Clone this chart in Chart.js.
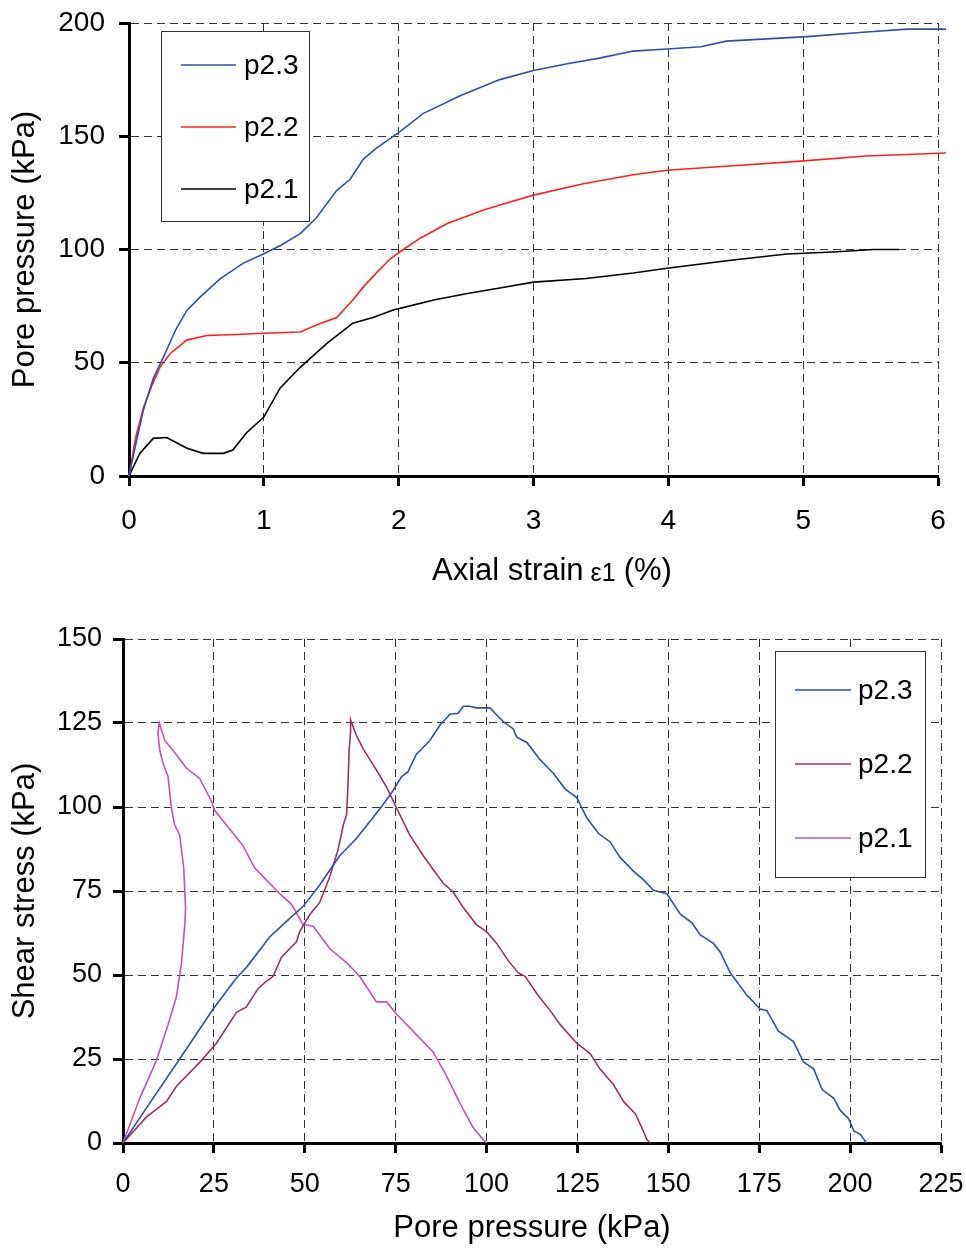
<!DOCTYPE html>
<html>
<head>
<meta charset="utf-8">
<script src="https://cdn.jsdelivr.net/npm/chart.js@4"></script>
<style>
  body { margin: 0; background: #fff; }
  #top { position: absolute; left: 0; top: 0; }
  #bottom { position: absolute; left: 0; top: 600px; }
</style>
</head>
<body>
<canvas id="top" width="966" height="600"></canvas>
<canvas id="bottom" width="966" height="648"></canvas>
<script>
// --- top chart: pore pressure vs axial strain ---
const strainP23 = [0, 0.05, 0.106, 0.18, 0.267, 0.35, 0.428, 0.527, 0.675, 0.848, 0.996, 1.13, 1.27, 1.39, 1.54, 1.64, 1.74, 1.84, 2.01, 2.18, 2.46, 2.75, 3.0, 3.25, 3.49, 3.74, 3.99, 4.24, 4.43, 4.73, 5.03, 5.47, 5.77, 6.06]
const poreP23 = [0, 14, 29, 43, 54, 65, 73, 79, 87, 94, 98, 102, 107, 114, 126, 131, 140, 145, 152, 160, 168, 175, 179, 182, 184.5, 187.6, 188.5, 189.5, 192, 193, 194, 196, 197.3, 197.3]

const strainP22 = [0, 0.05, 0.106, 0.17, 0.23, 0.304, 0.428, 0.576, 0.8, 0.996, 1.27, 1.39, 1.54, 1.66, 1.74, 1.84, 1.94, 2.01, 2.16, 2.36, 2.63, 2.75, 3.0, 3.37, 3.74, 3.99, 4.48, 4.98, 5.47, 6.06]
const poreP22 = [0, 17, 30, 40, 48, 54, 60, 62, 62.5, 63, 63.6, 66.7, 70, 77.7, 83.6, 90, 96, 99, 105, 111.5, 117.4, 119.6, 124, 129, 133, 135, 137, 139, 141.3, 142.6]

const strainP21 = [0, 0.08, 0.18, 0.28, 0.43, 0.55, 0.70, 0.77, 0.87, 1.0, 1.12, 1.27, 1.47, 1.66, 1.81, 1.96, 2.01, 2.26, 2.51, 2.75, 3.0, 3.39, 3.74, 3.99, 4.48, 4.88, 5.22, 5.52, 5.71]
const poreP21 = [0, 10, 16.6, 17, 12.3, 10, 10, 11.5, 19, 26, 38.8, 48, 58.7, 67.5, 70, 73.3, 74, 77.7, 80.6, 83, 85.6, 87.2, 89.6, 91.7, 95.4, 98, 98.9, 100, 100]

const strainTicks = [0, 1, 2, 3, 4, 5, 6]
const poreTicks = [0, 50, 100, 150, 200]

// --- bottom chart: shear stress vs pore pressure ---
const uP23 = [0, 7.3, 14.7, 24.8, 31.2, 33.9, 40.4, 44, 49.7, 54.1, 59.6, 64.2, 67.9, 71.6, 74.3, 76.6, 78.4, 80.7, 84.4, 87.2, 89.9, 92.2, 93.6, 95.4, 97.2, 100.9, 102.8, 104.6, 107.3, 108.3, 111.1, 114.7, 118.4, 121.6, 124.8, 127.6, 130.8, 134, 136.7, 140.4, 143.2, 145.9, 149.6, 153.3, 156.5, 158.8, 162.4, 164.3, 167, 171.6, 175.3, 177.1, 180.3, 184.4, 187.2, 190, 192.3, 195.5, 197.3, 199.6, 201, 202.8, 204.5]
const qP23 = [0, 11.8, 23.6, 39.9, 49.1, 52.2, 61.4, 65, 70.6, 76.8, 85.5, 90.6, 95.7, 100.8, 104.9, 109, 110.5, 115.7, 119.8, 124.4, 127.6, 127.9, 130, 130, 129.5, 129.5, 127.4, 125.4, 123.3, 120.8, 119.2, 114.1, 110, 105.4, 102.8, 96.7, 92.1, 89.6, 85, 80.9, 78.3, 75.2, 74.2, 68.1, 65.5, 61.9, 59.4, 56.8, 50.7, 44, 39.9, 39.4, 33.3, 30.2, 24.1, 22, 15.9, 13.3, 9.7, 7.2, 3.6, 2.6, 0]

const uP22 = [0, 6.4, 11.9, 14.7, 21.1, 25.7, 31.2, 33.9, 37.2, 39.4, 41.3, 43.6, 47.7, 48.6, 51.4, 54.1, 56.9, 59.2, 60.6, 61.5, 61.9, 62.2, 62.6, 62.6, 64.2, 66.1, 67.9, 69.7, 72.5, 75.2, 78.9, 82.6, 85.3, 88.1, 90.8, 93.6, 97.2, 100, 102.8, 106, 108.7, 110.6, 113.8, 117.5, 120.2, 124.8, 128.5, 131.2, 134.9, 137.7, 140.9, 142.7, 144.1, 145]
const qP22 = [0, 7.7, 12.3, 16.9, 24, 29.7, 38.9, 40.4, 46, 48.1, 49.6, 55.3, 59.9, 62.9, 68, 71.6, 79.3, 87.5, 94.7, 97.7, 107, 117.2, 122.3, 126, 121.3, 117.2, 114.1, 111, 105.9, 99.8, 91.6, 85.5, 81.4, 77.3, 74.7, 70.1, 65, 62.9, 59.4, 54.2, 50.7, 49.6, 44.5, 39.4, 35.3, 29.7, 26.6, 22, 17.4, 12.3, 8.7, 4.6, 1, 0]

const uP21 = [0, 4.6, 9.2, 12.4, 14.7, 16.1, 17.0, 17.2, 16.7, 15.6, 14.2, 13.3, 12.4, 11.0, 10.1, 9.6, 10.0, 11.5, 14.2, 17.4, 21.1, 24.3, 25.2, 28.4, 33.0, 36.2, 39.4, 43.1, 46.3, 49.5, 52.3, 56.9, 61.5, 65.1, 69.7, 72.5, 75.2, 79.8, 85.3, 89.0, 92.7, 96.3, 99.1, 100]
const qP21 = [0, 13.3, 24.6, 35.3, 43.5, 53.7, 65, 70, 81.9, 91.6, 94.7, 99.8, 109, 113, 117, 122, 125, 119.8, 116.2, 111.6, 108.5, 101.8, 99, 94.7, 88.5, 81.9, 78.3, 74.2, 71.1, 65, 64.5, 57.8, 53.7, 49.6, 42, 42, 38.4, 33.3, 27.1, 20, 11.8, 4.6, 1, 0]

const uTicks = [0, 25, 50, 75, 100, 125, 150, 175, 200, 225]
const qTicks = [0, 25, 50, 75, 100, 125, 150]

const seriesNames = ["p2.3", "p2.2", "p2.1"]

function zip(xs, ys) {
    return xs.map((x, i) => ({ x: x, y: ys[i] }))
}

const FONT = "'Liberation Sans', Arial, sans-serif"

// legend drawn as a framed box inside the plot, Excel style
const boxLegend = {
    id: "boxLegend",
    afterDatasetsDraw(chart, args, opts) {
        const ctx = chart.ctx
        ctx.save()
        ctx.fillStyle = "#fff"
        ctx.fillRect(opts.x, opts.y, opts.w, opts.h)
        ctx.strokeStyle = "#333"
        ctx.lineWidth = 1
        ctx.strokeRect(opts.x + 0.5, opts.y + 0.5, opts.w, opts.h)
        ctx.font = "28px " + FONT
        ctx.textBaseline = "middle"
        chart.data.datasets.forEach((ds, i) => {
            const y = opts.firstRow + i * opts.rowGap
            ctx.strokeStyle = ds.borderColor
            ctx.lineWidth = 1.6
            ctx.beginPath()
            ctx.moveTo(opts.x + opts.lineStart, y)
            ctx.lineTo(opts.x + opts.lineStart + opts.lineLen, y)
            ctx.stroke()
            ctx.fillStyle = "#000"
            ctx.fillText(ds.label, opts.x + opts.textStart, y + 1)
        })
        ctx.restore()
    }
}

// x title of the strain chart: epsilon-1 is set smaller than the rest
const strainTitle = {
    id: "strainTitle",
    afterDraw(chart, args, opts) {
        if (!opts.parts) return
        const ctx = chart.ctx
        ctx.save()
        ctx.fillStyle = "#000"
        ctx.textBaseline = "alphabetic"
        let x = opts.x
        opts.parts.forEach(p => {
            ctx.font = p.size + "px " + FONT
            ctx.fillText(p.text, x, opts.y + (p.drop || 0))
            x += ctx.measureText(p.text).width + p.gap
        })
        ctx.restore()
    }
}

function axis(min, max, ticks, title, isX, size, tickFont, tickPad, titleSize, titlePad) {
    return {
        type: "linear",
        min: min,
        max: max,
        afterBuildTicks(scale) {
            scale.ticks = ticks.map(v => ({ value: v }))
        },
        afterFit(scale) {
            if (isX) scale.height = size
            else scale.width = size
            scale.paddingLeft = 0
            scale.paddingRight = 0
            scale.paddingTop = 0
            scale.paddingBottom = 0
        },
        grid: {
            color: "#333",
            lineWidth: 1,
            tickColor: "#000",
            tickWidth: 3,
            tickLength: 10
        },
        border: { color: "#000", width: 3, dash: [8, 5] },
        ticks: {
            color: "#000",
            font: { family: FONT, size: tickFont },
            padding: tickPad,
            maxRotation: 0
        },
        title: {
            display: title !== "",
            text: title,
            color: "#000",
            font: { family: FONT, size: titleSize },
            padding: titlePad
        }
    }
}

function lineSet(label, xs, ys, color) {
    return {
        label: label,
        data: zip(xs, ys),
        borderColor: color,
        backgroundColor: color,
        borderWidth: 1.6,
        pointRadius: 0,
        tension: 0,
        fill: false,
        clip: { left: 2, top: 2, right: 10, bottom: 2 }
    }
}

new Chart(document.getElementById("top"), {
    type: "line",
    data: {
        datasets: [
            lineSet(seriesNames[0], strainP23, poreP23, "#3050a8"),
            lineSet(seriesNames[1], strainP22, poreP22, "#ff2020"),
            lineSet(seriesNames[2], strainP21, poreP21, "#000000")
        ]
    },
    options: {
        responsive: false,
        animation: false,
        layout: { padding: { left: 0, right: 28, top: 23, bottom: 0 } },
        plugins: {
            legend: { display: false },
            tooltip: { enabled: false },
            boxLegend: { x: 161, y: 31, w: 148, h: 190, firstRow: 65, rowGap: 62, lineStart: 20, lineLen: 55, textStart: 83 },
            strainTitle: {
                x: 432, y: 580,
                parts: [
                    { text: "Axial strain", size: 31, gap: 7 },
                    { text: "ε1", size: 25, gap: 8, drop: 1 },
                    { text: "(%)", size: 31, gap: 0 }
                ]
            }
        },
        scales: {
            x: axis(0, 6, strainTicks, "", true, 124, 28, 18, 31, 0),
            y: axis(0, 200, poreTicks, "Pore pressure (kPa)", false, 129, 28, 14, 31, { top: 7, bottom: 0 })
        }
    },
    plugins: [boxLegend, strainTitle]
})

new Chart(document.getElementById("bottom"), {
    type: "line",
    data: {
        datasets: [
            lineSet(seriesNames[0], uP23, qP23, "#3050a8"),
            lineSet(seriesNames[1], uP22, qP22, "#993366"),
            lineSet(seriesNames[2], uP21, qP21, "#c752b0")
        ]
    },
    options: {
        responsive: false,
        animation: false,
        layout: { padding: { left: 0, right: 25, top: 39, bottom: 0 } },
        plugins: {
            legend: { display: false },
            tooltip: { enabled: false },
            boxLegend: { x: 775, y: 51, w: 150, h: 226, firstRow: 90, rowGap: 74, lineStart: 20, lineLen: 56, textStart: 83 }
        },
        scales: {
            x: axis(0, 225, uTicks, "Pore pressure (kPa)", true, 105, 27, 15, 31, { top: 0, bottom: 1 }),
            y: axis(0, 150, qTicks, "Shear stress (kPa)", false, 123, 27, 11, 31, { top: 7, bottom: 0 })
        }
    },
    plugins: [boxLegend]
})
</script>
</body>
</html>
